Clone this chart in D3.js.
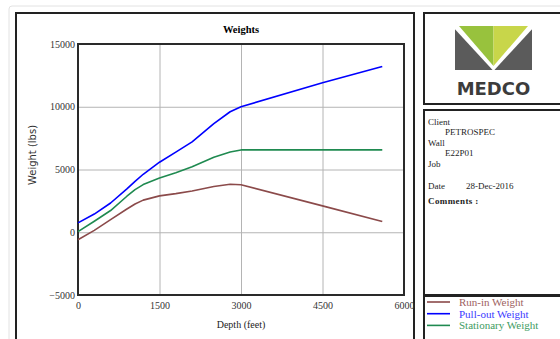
<!DOCTYPE html>
<html>
<head>
<meta charset="utf-8">
<script src="https://cdn.jsdelivr.net/npm/d3@7"></script>
<style>
  body { margin: 0; background: #fff; }
  svg { display: block; }
  .tick text { font-family: "Liberation Serif", "Times New Roman", serif; font-size: 10px; fill: #333; }
</style>
</head>
<body>
<div id="chart"></div>
<script>
// depth in feet, weights in lbs
const depth      = [0, 300, 600, 900, 1050, 1200, 1500, 1800, 2100, 2500, 2800, 3000, 4500, 5600];
const runIn      = [-600, 150, 1000, 1850, 2250, 2560, 2900, 3080, 3290, 3650, 3830, 3780, 2100, 850];
const pullOut    = [750, 1450, 2330, 3450, 4050, 4620, 5580, 6380, 7200, 8650, 9600, 10000, 11920, 13200];
const stationary = [50, 880, 1730, 2870, 3400, 3800, 4330, 4750, 5220, 5980, 6400, 6560, 6560, 6560];

const xTicks = [0, 1500, 3000, 4500, 6000];
const yTicks = [-5000, 0, 5000, 10000, 15000];

const seriesNames = ['Run-in Weight', 'Pull-out Weight', 'Stationary Weight'];
const seriesColors = ['#8b4a4a', '#0000ff', '#1f8a50'];
const legendTextColors = ['#9e6262', '#3a3aff', '#3e9c62'];

const infoLabels = ['Client', 'Wall', 'Job'];
const infoValues = ['PETROSPEC', 'E22P01', ''];
const reportDate = '28-Dec-2016';

const width = 560, height = 339;
const plot = {left: 78, top: 44, right: 404, bottom: 295};

const svg = d3.select('#chart').append('svg')
  .attr('width', width)
  .attr('height', height);

// outer page frame
svg.append('rect')
  .attr('x', 9).attr('y', 6).attr('width', 560).attr('height', 345)
  .attr('rx', 3)
  .attr('fill', 'none').attr('stroke', '#e2e2e2');

// panels
const panel = (x, y, w, h) => svg.append('rect')
  .attr('x', x).attr('y', y).attr('width', w).attr('height', h)
  .attr('fill', 'none').attr('stroke', '#222').attr('stroke-width', 2);

panel(16, 13, 398, 340);
panel(424, 13, 150, 91);
panel(424, 110, 150, 185);
panel(424, 296, 150, 60);

const x = d3.scaleLinear().domain([0, 6000]).range([plot.left, plot.right]);
const y = d3.scaleLinear().domain([-5000, 15000]).range([plot.bottom, plot.top]);

// grid
svg.append('g')
  .attr('transform', 'translate(0,' + plot.bottom + ')')
  .call(d3.axisBottom(x).tickValues(xTicks).tickSize(-(plot.bottom - plot.top)).tickFormat(''))
  .call(g => g.select('.domain').remove())
  .selectAll('line').attr('stroke', '#b4b4b4');

svg.append('g')
  .attr('transform', 'translate(' + plot.left + ',0)')
  .call(d3.axisLeft(y).tickValues(yTicks).tickSize(-(plot.right - plot.left)).tickFormat(''))
  .call(g => g.select('.domain').remove())
  .selectAll('line').attr('stroke', '#b4b4b4');

// tick labels
svg.append('g')
  .attr('transform', 'translate(0,' + plot.bottom + ')')
  .call(d3.axisBottom(x).tickValues(xTicks).tickSize(0).tickPadding(7).tickFormat(d3.format('d')))
  .call(g => g.select('.domain').remove());

svg.append('g')
  .attr('transform', 'translate(' + plot.left + ',0)')
  .call(d3.axisLeft(y).tickValues(yTicks).tickSize(0).tickPadding(3).tickFormat(d3.format('d')))
  .call(g => g.select('.domain').remove());

// plot frame
svg.append('rect')
  .attr('x', plot.left).attr('y', plot.top)
  .attr('width', plot.right - plot.left).attr('height', plot.bottom - plot.top)
  .attr('fill', 'none').attr('stroke', '#2a2a2a').attr('stroke-width', 2);

// lines
const series = [runIn, pullOut, stationary];
const line = d3.line()
  .x((d, i) => x(depth[i]))
  .y(d => y(d));

series.forEach((vals, k) => {
  svg.append('path')
    .datum(vals)
    .attr('fill', 'none')
    .attr('stroke', seriesColors[k])
    .attr('stroke-width', 1.6)
    .attr('stroke-linejoin', 'round')
    .attr('d', line);
});

// titles
svg.append('text')
  .attr('x', 241).attr('y', 33)
  .attr('text-anchor', 'middle')
  .style('font-family', '"Liberation Serif", serif').style('font-size', '10.5px').style('font-weight', 'bold')
  .text('Weights');

svg.append('text')
  .attr('x', 241).attr('y', 328)
  .attr('text-anchor', 'middle')
  .style('font-family', '"Liberation Serif", serif').style('font-size', '10px').attr('fill', '#222')
  .text('Depth (feet)');

svg.append('text')
  .attr('transform', 'translate(36,155) rotate(-90)')
  .attr('text-anchor', 'middle')
  .style('font-family', '"DejaVu Sans", sans-serif').style('font-size', '10px').attr('fill', '#333')
  .text('Weight (lbs)');

// logo
const logo = svg.append('g');
logo.append('rect').attr('x', 455).attr('y', 26).attr('width', 77).attr('height', 44).attr('fill', '#5b5b5b');
logo.append('polygon').attr('points', '452,26 535,26 493.5,71').attr('fill', '#fff');
logo.append('polygon').attr('points', '459,26 493.5,26 493.5,66').attr('fill', '#98c23d');
logo.append('polygon').attr('points', '493.5,26 528,26 493.5,66').attr('fill', '#c8d64a');
logo.append('text')
  .attr('x', 493.5).attr('y', 95)
  .attr('text-anchor', 'middle')
  .style('font-family', '"DejaVu Sans", sans-serif').style('font-size', '18px').style('font-weight', 'bold')
  .attr('fill', '#3c3c3c')
  .text('MEDCO');

// info box
const info = svg.append('g')
  .style('font-family', '"Liberation Serif", serif').style('font-size', '9px');

infoLabels.forEach((lab, i) => {
  info.append('text').attr('x', 428).attr('y', 124.5 + i * 21).attr('fill', '#1c1c1c').text(lab);
  info.append('text').attr('x', 445).attr('y', 135 + i * 21).attr('fill', '#1c1c1c').text(infoValues[i]);
});
info.append('text').attr('x', 428).attr('y', 189).attr('fill', '#1c1c1c').text('Date');
info.append('text').attr('x', 466).attr('y', 189).attr('fill', '#1c1c1c').text(reportDate);
info.append('text').attr('x', 428).attr('y', 204).attr('fill', '#1c1c1c')
  .style('font-weight', 'bold').style('letter-spacing', '0.4px').text('Comments :');

// legend
const legend = svg.append('g')
  .selectAll('g')
  .data(seriesNames)
  .join('g')
  .attr('transform', (d, i) => 'translate(0,' + (302 + i * 11.7) + ')');

legend.append('line')
  .attr('x1', 427).attr('x2', 450)
  .attr('stroke', (d, i) => seriesColors[i])
  .attr('stroke-width', 1.6);

legend.append('text')
  .attr('x', 459).attr('y', 4)
  .style('font-family', '"Liberation Serif", serif').style('font-size', '11px')
  .attr('fill', (d, i) => legendTextColors[i])
  .text(d => d);
</script>
</body>
</html>
